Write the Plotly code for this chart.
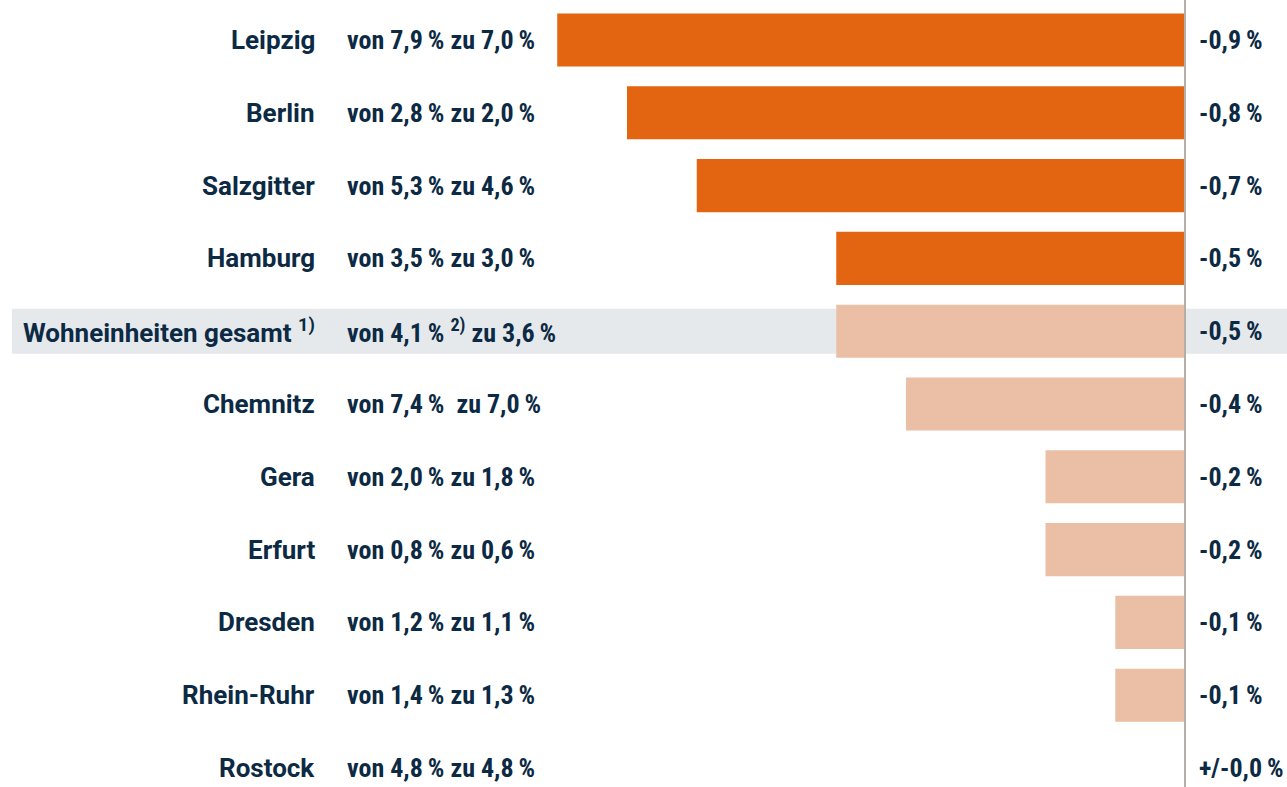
import plotly.graph_objects as go

cities = ["Leipzig", "Berlin", "Salzgitter", "Hamburg", "Wohneinheiten gesamt <sup>1)</sup>",
          "Chemnitz", "Gera", "Erfurt", "Dresden", "Rhein-Ruhr", "Rostock"]
ranges = ["von 7,9\u2009% zu 7,0\u2009%", "von 2,8\u2009% zu 2,0\u2009%", "von 5,3\u2009% zu 4,6\u2009%",
          "von 3,5\u2009% zu 3,0\u2009%", "von 4,1\u2009% <sup>2)</sup> zu 3,6\u2009%",
          "von 7,4\u2009%\u00a0 zu 7,0\u2009%", "von 2,0\u2009% zu 1,8\u2009%", "von 0,8\u2009% zu 0,6\u2009%",
          "von 1,2\u2009% zu 1,1\u2009%", "von 1,4\u2009% zu 1,3\u2009%", "von 4,8\u2009% zu 4,8\u2009%"]
changes = [-0.9, -0.8, -0.7, -0.5, -0.5, -0.4, -0.2, -0.2, -0.1, -0.1, 0.0]
change_labels = ["-0,9\u2009%", "-0,8\u2009%", "-0,7\u2009%", "-0,5\u2009%", "-0,5\u2009%", "-0,4\u2009%",
                 "-0,2\u2009%", "-0,2\u2009%", "-0,1\u2009%", "-0,1\u2009%", "+/-0,0\u2009%"]
strong = [True, True, True, True, False, False, False, False, False, False, False]

W, H = 1287, 787
FONT_NAME = "Roboto, sans-serif"
FONT_NUM = "Liberation Sans Narrow, Roboto Condensed, DejaVu Sans Condensed, sans-serif"
TXT = "#0c2a44"
px_per_unit = 697.5
zero_px = 1185
x_range = [-zero_px / px_per_unit, (W - zero_px) / px_per_unit]
row_px = 72.8
first_px = 40
y_range = [(H - first_px) / row_px, -first_px / row_px]

ys = list(range(len(cities)))
colors = ["#e36511" if s else "#ebbfa5" for s in strong]

fig = go.Figure()
fig.add_trace(go.Bar(x=changes, y=ys, orientation="h", marker=dict(color=colors, line=dict(width=0)),
                     width=0.73, hoverinfo="skip"))

shapes = [
    dict(type="rect", xref="paper", yref="y", x0=12 / W, x1=1, y0=4 - 0.31, y1=4 + 0.31,
         fillcolor="#e6e9ec", line=dict(width=0), layer="below"),
    dict(type="line", xref="x", yref="paper", x0=0, x1=0, y0=0, y1=1,
         line=dict(color="#b3aea6", width=2), layer="above"),
]

fn_name = dict(family=FONT_NAME, size=26, color=TXT, weight="bold")
fn_num = dict(family=FONT_NUM, size=26, color=TXT, weight="bold")
annotations = []
for i in ys:
    annotations.append(dict(x=317 / W, y=i, xref="paper", yref="y", text=cities[i], showarrow=False,
                            xanchor="right", yanchor="middle", font=fn_name))
    annotations.append(dict(x=345 / W, y=i, xref="paper", yref="y", text=ranges[i], showarrow=False,
                            xanchor="left", yanchor="middle", font=fn_num))
    annotations.append(dict(x=1197 / W, y=i, xref="paper", yref="y", text=change_labels[i], showarrow=False,
                            xanchor="left", yanchor="middle", font=fn_num))

fig.update_layout(
    width=W, height=H, margin=dict(l=0, r=0, t=0, b=0),
    paper_bgcolor="white", plot_bgcolor="rgba(0,0,0,0)",
    showlegend=False, shapes=shapes, annotations=annotations,
    xaxis=dict(range=x_range, visible=False, fixedrange=True),
    yaxis=dict(range=y_range, visible=False, fixedrange=True),
    font=dict(family=FONT_NAME, color=TXT, size=26),
)
fig.write_html("out.html", config={"displayModeBar": False},
               post_script="document.body.style.margin='0';document.body.style.overflow='hidden';")
